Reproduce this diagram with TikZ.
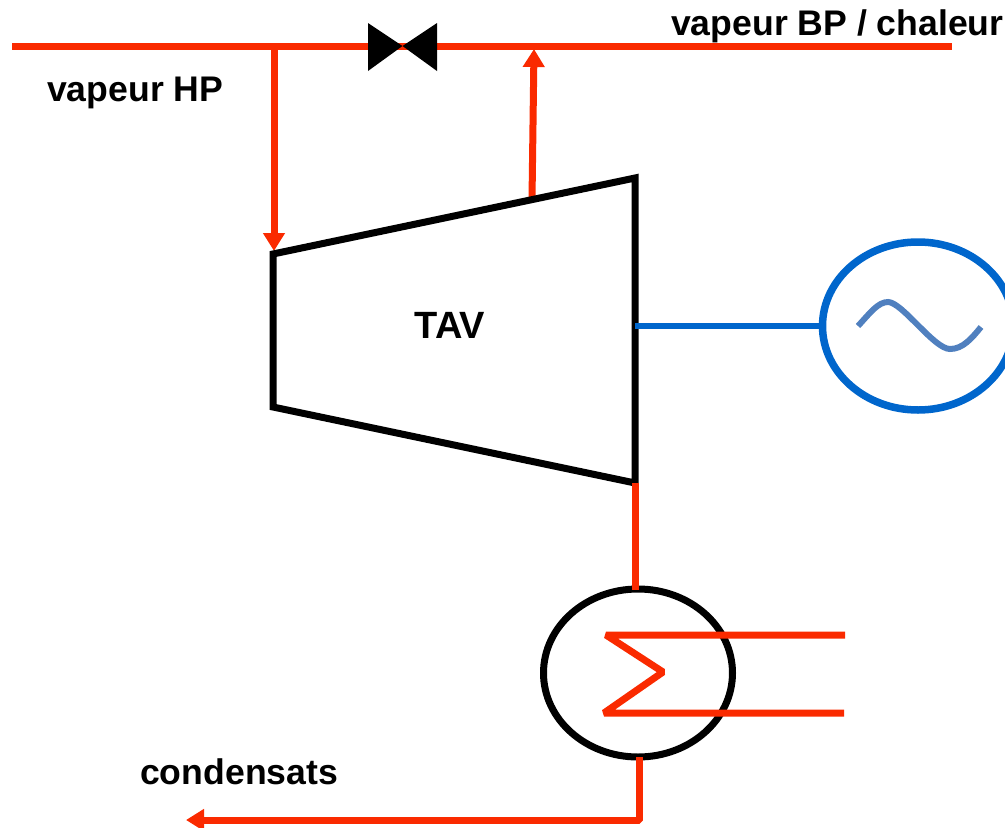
\documentclass[tikz,border=0pt]{standalone}
\usepackage{fontspec}
\setmainfont{Liberation Sans}
\usetikzlibrary{shapes.geometric,arrows.meta}
\definecolor{steam}{HTML}{FA2A00}
\definecolor{elec}{HTML}{0066CC}
\definecolor{wave}{HTML}{5080BF}
\tikzset{
  pipe/.style={draw=steam,line width=7pt,line cap=butt,line join=bevel},
  flow/.style={pipe,-{Triangle[length=18pt,width=21pt]}},
  lbl/.style={font=\bfseries\fontsize{35.6}{40}\selectfont,text=black,inner sep=0pt,anchor=base west},
  body/.style={draw=black,line width=7pt},
  roundbody/.style={ellipse,draw=black,line width=7pt,minimum width=189pt,minimum height=168pt,inner sep=0pt},
  genbody/.style={ellipse,draw=elec,line width=7.5pt,minimum width=191pt,minimum height=168pt,inner sep=0pt},
}
\begin{document}
\begin{tikzpicture}[x=1pt,y=-1pt]
\useasboundingbox (0,0) rectangle (1005,828);
% named points
\coordinate (hpin) at (12,46);
\coordinate (bpout) at (952,46);
\coordinate (j1) at (274,46);
\coordinate (j2) at (534,49);
\coordinate (t1) at (273,254);
\coordinate (t2) at (635,178);
\coordinate (t3) at (635,483);
\coordinate (t4) at (273,407);
\coordinate (tout) at (532,200);
\coordinate (shaft) at (635,326);
\coordinate (c1) at (845,635);
\coordinate (c2) at (606,635);
\coordinate (c3) at (663,672);
\coordinate (c4) at (604,713);
\coordinate (c5) at (844,713);
\coordinate (corner) at (639,820);
\coordinate (condout) at (186,820);
% steam header and valve
\draw[pipe] (hpin) -- (bpout);
\draw[flow] (j1) -- (274,251);
\draw[flow] (tout) -- (j2);
\node[coordinate] (valve) at (402.5,46) {};
\fill[black] (368,23) -- (valve) -- (368,71) -- cycle;
\fill[black] (437,23) -- (valve) -- (437,71) -- cycle;
% turbine
\draw[body,line join=miter] (t1) -- (t2) -- (t3) -- (t4) -- cycle;
\node[lbl,anchor=center,font=\bfseries\fontsize{38}{42}\selectfont] (tav) at (450,325) {TAV};
% generator
\node[genbody] (gen) at (918,326) {};
\draw[elec,line width=6.5pt] (shaft) -- (gen.west);
\draw[wave,line width=6pt] (858,326) .. controls (870,313) and (878,302) .. (888,302)
  .. controls (902,302) and (934,349) .. (950,349)
  .. controls (963,349) and (972,338) .. (981,327);
% condenser
\node[roundbody] (cond) at (638,673) {};
\draw[pipe] (t3) -- (635,590);
\draw[pipe] (c1) -- (c2) -- (c3) -- (c4) -- (c5);
\draw[pipe,-{Triangle[length=18pt,width=21pt]}] (639,757) -- (corner) -- (condout);
% labels
\node[lbl] (hp) at (47,101) {vapeur HP};
\node[lbl] (bp) at (671,35) {vapeur BP / chaleur};
\node[lbl] (cs) at (140,784) {condensats};
\end{tikzpicture}
\end{document}
